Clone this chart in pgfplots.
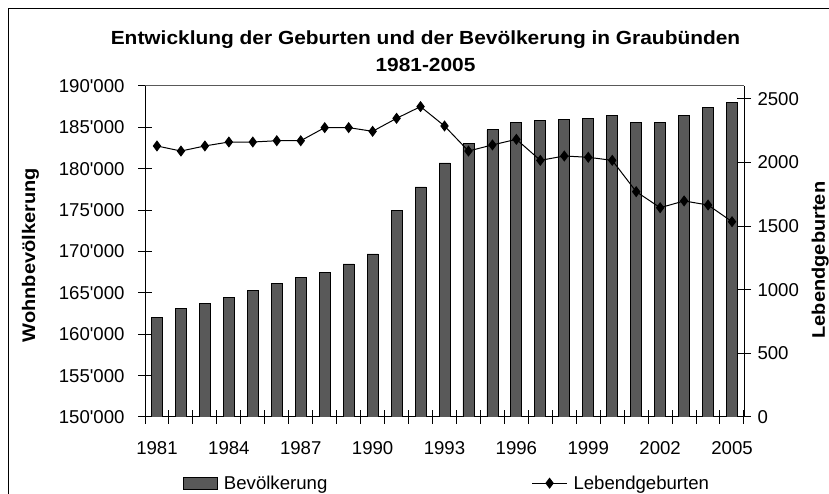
\documentclass[border=0pt]{standalone}
\usepackage{fontspec}
\setmainfont{Liberation Sans}
\newfontfamily\bfont{Liberation Sans}[FakeStretch=1.1]
\usepackage{pgfplots}
\pgfplotsset{compat=1.18}
\newcommand\fs{\fontsize{18.6bp}{22bp}\selectfont}
\newcommand\ls{\bfont\bfseries\fontsize{18.2bp}{22bp}\selectfont}
\definecolor{barfill}{HTML}{595959}
\begin{document}
\begin{tikzpicture}[x=1bp,y=1bp]
\useasboundingbox (0,0) rectangle (829,494);
\draw[line width=1bp] (8,0) -- (8,485) -- (829,485);
\node[font=\bfont\bfseries\fontsize{19bp}{22bp}\selectfont, anchor=base] at (425.5,449) {Entwicklung der Geburten und der Bevölkerung in Graubünden};
\node[font=\bfont\bfseries\fontsize{19bp}{22bp}\selectfont, anchor=base] at (425.5,422.3) {1981-2005};
\begin{axis}[
  name=ax1,
  at={(145bp,77bp)}, anchor=south west, scale only axis,
  width=599bp, height=331bp,
  xmin=1980.5, xmax=2005.5, ymin=150000, ymax=190000,
  ytick={150000,155000,...,190000},
  scaled y ticks=false,
  /pgf/number format/assume math mode=true,
  /pgf/number format/1000 sep={},
  ticklabel style={font=\fs},
  yticklabel style={xshift=-10bp, /pgf/number format/.cd, fixed, 1000 sep={\textquotesingle}},
  xtick={1980.5,1981.5,...,2005.5}, xticklabel={\mbox{}},
  extra x ticks={1981,1984,...,2005},
  extra x tick labels={1981,1984,1987,1990,1993,1996,1999,2002,2005},
  extra x tick style={major tick length=0pt, xticklabel style={yshift=-21bp}},
  tick align=center, major tick length=14bp,
  tick style={black, line width=1bp},
  axis x line*=bottom, axis y line*=left,
  axis line style={-, black, line width=1bp},
  ylabel={Wohnbevölkerung},
  ylabel style={font=\ls, at={(axis description cs:-0.1836,0.489)}, anchor=base, rotate=0},
  legend style={at={(axis description cs:0.0634,-0.2)}, anchor=west, draw=none, fill=none, font=\fs, inner sep=0pt,
    /tikz/every odd column/.style={column sep=4bp}},
  legend cell align=left,
]
\addplot[ybar, bar width=11bp, fill=barfill, draw=black, line width=0.8bp,
  legend image code/.code={\draw[fill=barfill,draw=black,line width=0.8bp] (0bp,-6bp) rectangle (34bp,6bp);}]
coordinates {
(1981,162000) (1982,163100) (1983,163750) (1984,164500) (1985,165300)
(1986,166100) (1987,166900) (1988,167500) (1989,168500) (1990,169700)
(1991,175000) (1992,177800) (1993,180700) (1994,183050) (1995,184700)
(1996,185600) (1997,185800) (1998,185950) (1999,186100) (2000,186400)
(2001,185600) (2002,185600) (2003,186400) (2004,187400) (2005,188050)
};
\addlegendentry{Bevölkerung}
\end{axis}
\begin{axis}[
  at={(145bp,77bp)}, anchor=south west, scale only axis,
  width=599bp, height=331bp,
  xmin=1980.5, xmax=2005.5, ymin=0, ymax=2600,
  axis x line=none, axis y line*=right,
  axis line style={-, black, line width=1bp},
  ytick={0,500,...,2500},
  /pgf/number format/assume math mode=true,
  /pgf/number format/1000 sep={},
  ticklabel style={font=\fs},
  yticklabel style={xshift=3bp},
  tick align=center, major tick length=14bp,
  tick style={black, line width=1bp},
  ylabel={Lebendgeburten},
  ylabel style={font=\ls, at={(axis description cs:1.1352,0.474)}, anchor=base, rotate=0},
  legend style={at={(axis description cs:0.645,-0.2)}, anchor=west, draw=none, fill=none, font=\fs, inner sep=0pt,
    /tikz/every odd column/.style={column sep=4bp}},
  legend cell align=left,
]
\addplot[black, line width=1bp, mark=diamond*, mark size=4.8bp,
  legend image code/.code={\draw[black,line width=1bp] (0bp,0bp) -- (35bp,0bp); \draw[black,mark=diamond*,mark size=4.8bp] plot coordinates {(17.5bp,0bp)};}]
coordinates {
(1981,2129) (1982,2089) (1983,2129) (1984,2160) (1985,2160)
(1986,2170) (1987,2170) (1988,2273) (1989,2273) (1990,2244)
(1991,2346) (1992,2438) (1993,2286) (1994,2089) (1995,2137)
(1996,2181) (1997,2016) (1998,2050) (1999,2040) (2000,2016)
(2001,1770) (2002,1644) (2003,1697) (2004,1665) (2005,1534)
};
\addlegendentry{Lebendgeburten}
\end{axis}
\draw[gray!70!black, line width=1bp] (ax1.north west) -- (ax1.north east);
\end{tikzpicture}
\end{document}
